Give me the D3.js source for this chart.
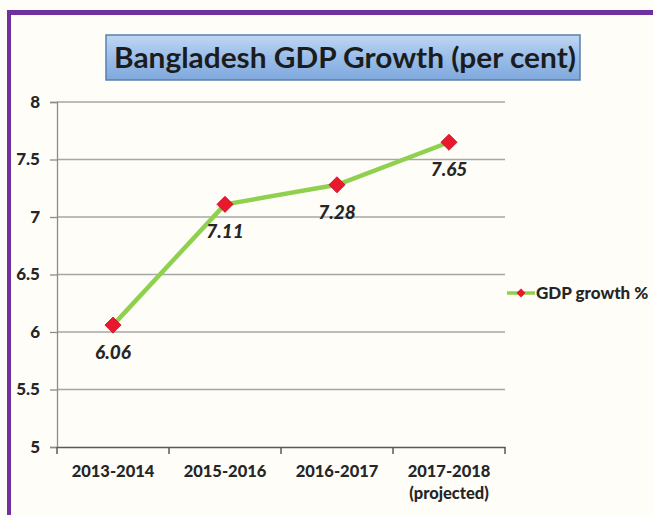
<!DOCTYPE html>
<html>
<head>
<meta charset="utf-8">
<script src="https://cdn.jsdelivr.net/npm/d3@7"></script>
<style>
	html, body { margin: 0; padding: 0; background: #fffdf8; }
	svg { display: block; }
	text { font-family: Lato, 'Open Sans', sans-serif; fill: #262626; }
</style>
</head>
<body>
<div id="chart"></div>
<script>
const categories = ['2013-2014', '2015-2016', '2016-2017', '2017-2018\n(projected)']
const growth = [6.06, 7.11, 7.28, 7.65]
const yTicks = [5, 5.5, 6, 6.5, 7, 7.5, 8]
const title = 'Bangladesh GDP Growth (per cent)'
const seriesName = 'GDP growth %'

const width = 653
const height = 515
const margin = { top: 102, right: 148, bottom: 68, left: 57 }

const svg = d3
	.select('#chart')
	.append('svg')
	.attr('width', width)
	.attr('height', height)

svg.append('rect').attr('width', width).attr('height', height).attr('fill', '#fffdf8')

// purple frame, top and left edges only show
svg.append('rect').attr('x', 7).attr('y', 10).attr('width', width).attr('height', 5).attr('fill', '#7030a0')
svg.append('rect').attr('x', 7).attr('y', 10).attr('width', 4).attr('height', height).attr('fill', '#7030a0')

// title box
const defs = svg.append('defs')
const grad = defs
	.append('linearGradient')
	.attr('id', 'titleGrad')
	.attr('x1', 0).attr('y1', 0).attr('x2', 0).attr('y2', 1)
grad.append('stop').attr('offset', '0%').attr('stop-color', '#c0d6f2')
grad.append('stop').attr('offset', '45%').attr('stop-color', '#9dc0ea')
grad.append('stop').attr('offset', '100%').attr('stop-color', '#7fa8dc')

svg.append('rect')
	.attr('x', 106).attr('y', 35).attr('width', 474).attr('height', 45)
	.attr('fill', 'url(#titleGrad)')
	.attr('stroke', '#5a7fae')
	.attr('stroke-width', 1.5)

svg.append('text')
	.attr('x', 345).attr('y', 68)
	.attr('text-anchor', 'middle')
	.attr('textLength', 462)
	.attr('lengthAdjust', 'spacingAndGlyphs')
	.style('font-size', '29px')
	.style('font-weight', 700)
	.style('fill', '#1c1c1c')
	.text(title)

const x = d3
	.scaleBand()
	.domain(categories)
	.range([margin.left, width - margin.right])
	.padding(0)

const y = d3
	.scaleLinear()
	.domain([5, 8])
	.range([height - margin.bottom, margin.top])

// gridlines
svg.append('g')
	.selectAll('line')
	.data(yTicks.slice(1))
	.join('line')
	.attr('x1', margin.left)
	.attr('x2', width - margin.right)
	.attr('y1', d => y(d))
	.attr('y2', d => y(d))
	.attr('stroke', '#a6a6a6')
	.attr('stroke-width', 1.3)

// y axis
const yAxis = svg.append('g')
	.attr('transform', `translate(${margin.left},0)`)
	.call(d3.axisLeft(y).tickValues(yTicks).tickSize(7).tickPadding(10).tickFormat(d3.format('')))
yAxis.select('.domain').attr('stroke', '#8c8c8c').attr('stroke-width', 1.3)
yAxis.selectAll('.tick line').attr('stroke', '#8c8c8c').attr('stroke-width', 1.3)
yAxis.selectAll('.tick text')
	.style('font-size', '17px')
	.style('font-weight', 900)
	.style('font-family', 'Lato, sans-serif')
	.attr('fill', '#262626')

// x axis
const xAxis = svg.append('g')
	.attr('transform', `translate(0,${height - margin.bottom})`)
	.call(d3.axisBottom(x).tickSize(0).tickFormat(''))
xAxis.select('.domain').attr('stroke', '#595959').attr('stroke-width', 1.5)

const edges = categories.map(c => x(c)).concat([width - margin.right])
xAxis.selectAll('.edge')
	.data(edges)
	.join('line')
	.attr('x1', d => d).attr('x2', d => d)
	.attr('y1', 0).attr('y2', 7)
	.attr('stroke', '#595959')
	.attr('stroke-width', 1.5)

const xLabels = svg.append('g')
	.selectAll('text')
	.data(categories)
	.join('text')
	.attr('x', d => x(d) + x.bandwidth() / 2)
	.attr('y', height - margin.bottom + 30)
	.attr('text-anchor', 'middle')
	.style('font-size', '16.5px')
	.style('font-weight', 900)

xLabels.each(function (d) {
	const t = d3.select(this)
	d.split('\n').forEach((part, i) => {
		t.append('tspan')
			.attr('x', x(d) + x.bandwidth() / 2)
			.attr('dy', i === 0 ? 0 : 22)
			.text(part)
	})
})

// series line
const cx = (d, i) => x(categories[i]) + x.bandwidth() / 2

const line = d3
	.line()
	.x(cx)
	.y(d => y(d))

svg.append('path')
	.datum(growth)
	.attr('d', line)
	.attr('fill', 'none')
	.attr('stroke', '#8fd14f')
	.attr('stroke-width', 4.5)
	.attr('stroke-linejoin', 'round')

const diamond = d3.symbol().type(d3.symbolSquare).size(130)

svg.append('g')
	.selectAll('path')
	.data(growth)
	.join('path')
	.attr('d', diamond)
	.attr('transform', (d, i) => `translate(${cx(d, i)},${y(d)}) rotate(45)`)
	.attr('fill', '#e8192c')
	.attr('stroke', '#c8102e')
	.attr('stroke-width', 0.8)

// data labels
svg.append('g')
	.selectAll('text')
	.data(growth)
	.join('text')
	.attr('x', cx)
	.attr('y', d => y(d) + 34)
	.attr('text-anchor', 'middle')
	.style('font-size', '19px')
	.style('font-weight', 900)
	.style('font-style', 'italic')
	.text(d => d3.format('.2f')(d))

// legend
const legend = svg.append('g').attr('transform', 'translate(507,293)')
legend.append('line')
	.attr('x1', 0).attr('x2', 28)
	.attr('stroke', '#8fd14f')
	.attr('stroke-width', 3.5)
legend.append('path')
	.attr('d', d3.symbol().type(d3.symbolSquare).size(40))
	.attr('transform', 'translate(14,0) rotate(45)')
	.attr('fill', '#e8192c')
legend.append('text')
	.attr('x', 29)
	.attr('y', 6)
	.style('font-size', '17px')
	.style('font-weight', 900)
	.text(seriesName)
</script>
</body>
</html>
